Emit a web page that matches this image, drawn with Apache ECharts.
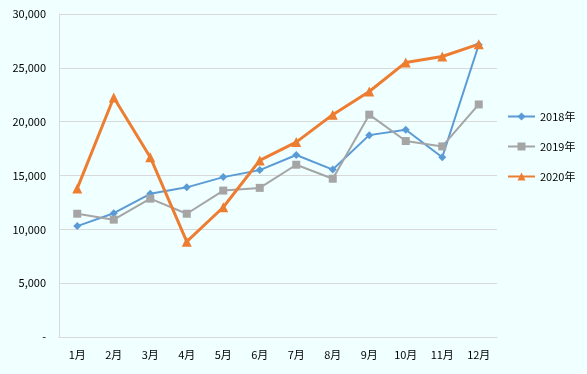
<!DOCTYPE html>
<html><head><meta charset="utf-8">
<script src="https://cdn.jsdelivr.net/npm/echarts@6/dist/echarts.min.js"></script>
<style>html,body{margin:0;padding:0;background:#F0FFFF;}#c{width:587px;height:374px;}</style>
</head><body><div id="c"></div>
<script>
const months = ['1月','2月','3月','4月','5月','6月','7月','8月','9月','10月','11月','12月'];
const s2018 = [10300,11500,13300,13900,14850,15500,16900,15550,18750,19250,16700,27150];
const s2019 = [11450,10900,12850,11450,13600,13850,16000,14700,20650,18200,17700,21600];
const s2020 = [13800,22250,16700,8850,12050,16400,18100,20650,22800,25500,26050,27200];
const chart = echarts.init(document.getElementById('c'));
const font = 'Meiryo, "Noto Sans CJK JP", sans-serif';
chart.setOption({
  backgroundColor:'#F0FFFF',
  animation:false,
  grid:{left:59,right:90,top:14,bottom:37},
  legend:{
    orient:'vertical', left:502, top:106, itemGap:19, itemWidth:27, itemHeight:10,
    textStyle:{fontSize:11,color:'#000',fontFamily:font},
    data:['2018年','2019年','2020年']
  },
  xAxis:{type:'category',data:months,boundaryGap:true,
    axisLine:{lineStyle:{color:'#D9D9D9'}},axisTick:{show:false},
    axisLabel:{color:'#000',fontSize:11,fontFamily:font,margin:12}},
  yAxis:{type:'value',min:0,max:30000,interval:5000,
    axisLine:{show:true,lineStyle:{color:'#D9D9D9'}},
    splitLine:{lineStyle:{color:'#D9D9D9'}},
    axisLabel:{color:'#000',fontSize:11,fontFamily:font,margin:13,
      formatter:v=>v===0?'-':v.toLocaleString('en-US')}},
  series:[
    {name:'2018年',type:'line',data:s2018,symbol:'diamond',symbolSize:8,
      itemStyle:{color:'#5B9BD5'},lineStyle:{width:2,color:'#5B9BD5'}},
    {name:'2019年',type:'line',data:s2019,symbol:'rect',symbolSize:8,
      itemStyle:{color:'#A5A5A5'},lineStyle:{width:2,color:'#A5A5A5'}},
    {name:'2020年',type:'line',data:s2020,symbol:'triangle',symbolSize:10,
      itemStyle:{color:'#ED7D31'},lineStyle:{width:3,color:'#ED7D31'}}
  ]
});
</script></body></html>
